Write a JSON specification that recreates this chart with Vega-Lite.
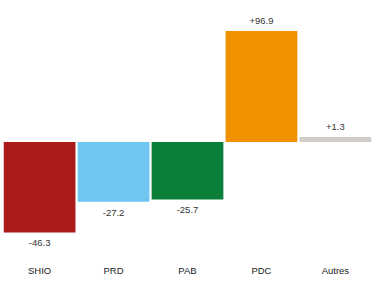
{
  "$schema": "https://vega.github.io/schema/vega-lite/v6.json",
  "autosize": "none",
  "width": 369,
  "height": 248,
  "padding": {"left": 3, "top": 10, "right": 3, "bottom": 26},
  "background": "white",
  "config": {"view": {"stroke": null}, "font": "Liberation Sans"},
  "data": {"values": [
    {"party": "SHIO", "value": -46.3, "label": "-46.3"},
    {"party": "PRD", "value": -27.2, "label": "-27.2"},
    {"party": "PAB", "value": -25.7, "label": "-25.7"},
    {"party": "PDC", "value": 96.9, "label": "+96.9"},
    {"party": "Autres", "value": 1.3, "label": "+1.3"}
  ]},
  "encoding": {
    "x": {"field": "party", "type": "nominal", "sort": null,
      "scale": {"paddingInner": 0.03, "paddingOuter": 0.01},
      "axis": {"title": null, "domain": false, "ticks": false, "labelAngle": 0, "labelFontSize": 9.5, "labelColor": "#222", "labelPadding": 7, "labelFont": "Liberation Sans"}},
    "y": {"field": "value", "type": "quantitative",
      "scale": {"domain": [-60, -25, 0, 5, 115], "range": [244.5, 188.25, 132, 113, 2.9], "nice": false, "zero": false},
      "axis": null}
  },
  "layer": [
    {"mark": {"type": "bar"},
     "encoding": {
       "y2": {"datum": 0},
       "color": {"field": "party", "type": "nominal", "legend": null,
         "scale": {"domain": ["SHIO", "PRD", "PAB", "PDC", "Autres"], "range": ["#ad1a1a", "#6fc6f0", "#0a7f3a", "#f09200", "#d0ccc8"]}}
     }},
    {"transform": [{"filter": "datum.value < 0"}],
     "mark": {"type": "text", "baseline": "top", "dy": 6, "fontSize": 9.5, "color": "#333"},
     "encoding": {"text": {"field": "label"}}},
    {"transform": [{"filter": "datum.value >= 0"}],
     "mark": {"type": "text", "baseline": "bottom", "dy": -5, "fontSize": 9.5, "color": "#333"},
     "encoding": {"text": {"field": "label"}}},
    {"mark": {"type": "rule", "color": "#555", "strokeWidth": 1.5},
     "encoding": {"y": {"datum": 0}}}
  ]
}
